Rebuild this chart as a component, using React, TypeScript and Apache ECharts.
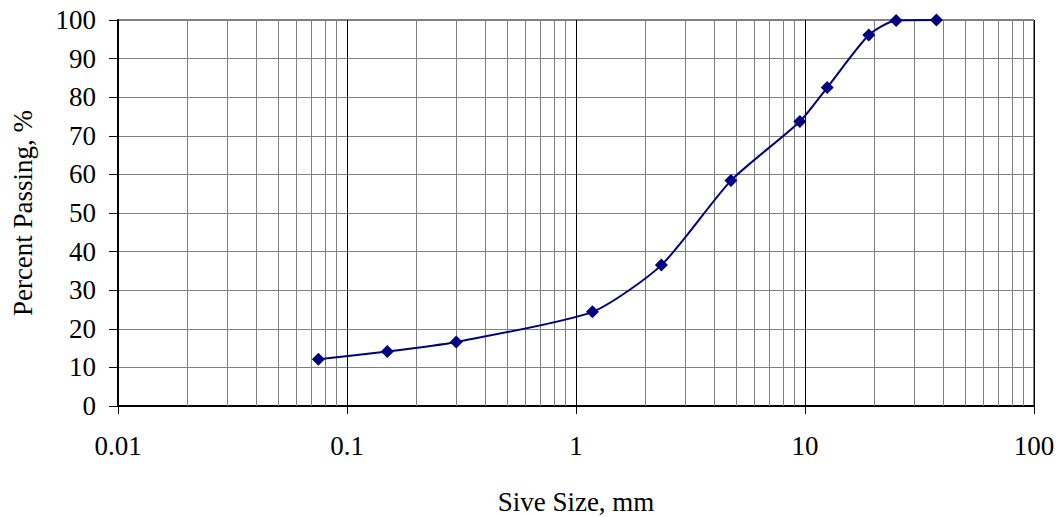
import React, { useEffect, useRef } from "react";
import * as echarts from "echarts";

const sieveSizes = [0.075, 0.15, 0.3, 1.18, 2.36, 4.75, 9.5, 12.5, 19, 25, 37.5];
const percentPassing = [12.1, 14.1, 16.6, 24.4, 36.5, 58.4, 73.7, 82.5, 96.1, 99.9, 100];
const decades = [0.01, 0.1, 1, 10];
const minorMultipliers = [2, 3, 4, 5, 6, 7, 8, 9];

const FONT = '"Liberation Serif", "Times New Roman", serif';

export default function App() {
  const ref = useRef<HTMLDivElement>(null);
  useEffect(() => {
    document.body.style.margin = "0";
    const chart = echarts.init(ref.current!, null, { renderer: "svg" });
    const minorLines: { xAxis: number }[] = [];
    decades.forEach((d) =>
      minorMultipliers.forEach((m) => minorLines.push({ xAxis: parseFloat((d * m).toPrecision(3)) }))
    );
    chart.setOption({
      animation: false,
      backgroundColor: "#fff",
      grid: {
        left: 118,
        top: 20,
        width: 916,
        height: 386,
        outerBoundsMode: "none",
        containLabel: false,
        show: true,
        borderColor: "#000",
        borderWidth: 1,
        backgroundColor: "transparent",
      },
      xAxis: {
        type: "log",
        logBase: 10,
        min: 0.01,
        max: 100,
        name: "Sive Size, mm",
        nameLocation: "middle",
        nameGap: 82,
        nameTextStyle: { fontFamily: FONT, fontSize: 27, color: "#000" },
        axisLine: { show: true, lineStyle: { color: "#000", width: 2 } },
        axisTick: { show: true, inside: false, length: 8, lineStyle: { color: "#000" } },
        axisLabel: {
          fontFamily: FONT,
          fontSize: 27,
          color: "#000",
          margin: 26,
          formatter: (v: number) => String(v),
        },
        splitLine: { show: true, lineStyle: { color: "#000", width: 1 } },
      },
      yAxis: {
        type: "value",
        min: 0,
        max: 100,
        interval: 10,
        name: "Percent Passing, %",
        nameLocation: "middle",
        nameGap: 82,
        nameTextStyle: { fontFamily: FONT, fontSize: 27, color: "#000" },
        axisLine: { show: true, lineStyle: { color: "#000", width: 2 } },
        axisTick: { show: true, inside: false, length: 9, lineStyle: { color: "#000" } },
        axisLabel: { fontFamily: FONT, fontSize: 27, color: "#000", margin: 22 },
        splitLine: { show: true, lineStyle: { color: "#808080", width: 1 } },
      },
      series: [
        {
          type: "line",
          data: [],
          z: 1,
          silent: true,
          markLine: {
            silent: true,
            symbol: ["none", "none"],
            label: { show: false },
            lineStyle: { color: "#808080", width: 1, type: "solid" },
            emphasis: { disabled: true },
            data: minorLines,
          },
        },
        {
          type: "line",
          z: 5,
          data: sieveSizes.map((s, i) => [s, percentPassing[i]]),
          smooth: 0.22,
          symbol: "diamond",
          symbolSize: 13,
          showAllSymbol: true,
          lineStyle: { color: "#000080", width: 2 },
          itemStyle: { color: "#000080" },
        },
      ],
    });
    return () => chart.dispose();
  }, []);
  return <div ref={ref} style={{ width: 1062, height: 517 }} />;
}
